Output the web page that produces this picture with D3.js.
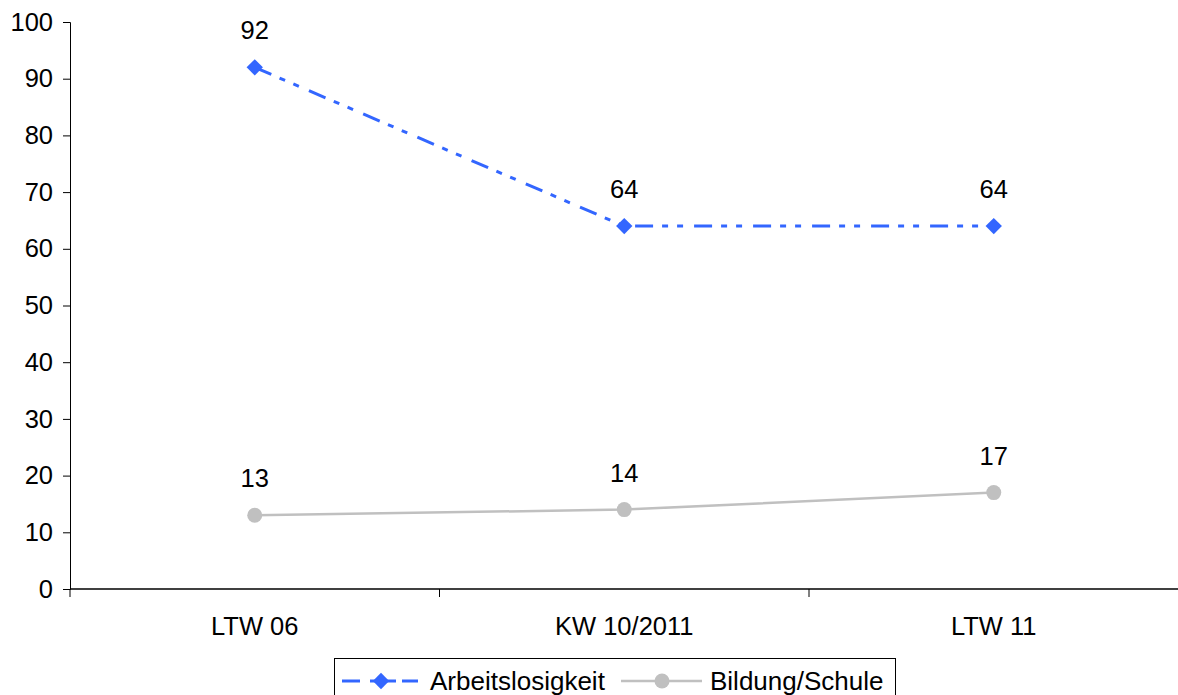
<!DOCTYPE html>
<html><head><meta charset="utf-8">
<script src="https://cdn.jsdelivr.net/npm/d3@7"></script>
<style>body{margin:0;background:#fff}svg{display:block}</style>
</head><body>
<svg id="c" width="1178" height="695"></svg>
<script>
const categories = ["LTW 06", "KW 10/2011", "LTW 11"];
const arbeitslosigkeit = [92, 64, 64];
const bildung = [13, 14, 17];
const seriesNames = ["Arbeitslosigkeit", "Bildung/Schule"];
const yTicks = [0,10,20,30,40,50,60,70,80,90,100];

(function(){
const svg = d3.select("#c");
const font = "'Liberation Sans', Arial, sans-serif";
const fs = 25.5;
const mLeft = 70, mRight = 1178, mTop = 22, mBottom = 589;
const x = d3.scaleBand().domain(categories).range([mLeft, mRight + 0.5]);
const y = d3.scaleLinear().domain([0, 100]).range([mBottom, mTop]);

const ya = svg.append("g").attr("transform", `translate(${mLeft},0)`)
  .call(d3.axisLeft(y).tickValues(yTicks).tickSize(7).tickPadding(10));
ya.select(".domain").attr("stroke", "#000").attr("stroke-width", 1);
ya.selectAll(".tick line").attr("stroke", "#000");
ya.selectAll("text").attr("font-family", font).attr("font-size", fs).attr("fill", "#000");
svg.append("line").attr("x1", mLeft).attr("x2", mLeft).attr("y1", mBottom).attr("y2", mBottom + 8).attr("stroke", "#000");

const xa = svg.append("g").attr("transform", `translate(0,${mBottom})`);
xa.append("line").attr("x1", mLeft).attr("x2", mRight).attr("y1", 0).attr("y2", 0).attr("stroke", "#000").attr("stroke-width", 1.5);
const bounds = categories.map(c => x(c)).slice(1);
xa.selectAll("line.t").data(bounds).enter().append("line").attr("class", "t")
  .attr("x1", d => d).attr("x2", d => d).attr("y1", 0).attr("y2", 8).attr("stroke", "#000");
xa.selectAll("text").data(categories).enter().append("text")
  .attr("x", d => x(d) + x.bandwidth() / 2).attr("y", 46)
  .attr("text-anchor", "middle").attr("font-family", font).attr("font-size", fs).text(d => d);

const cx = d => x(d) + x.bandwidth() / 2;
const blue = "#3366ff", gray = "#c0c0c0";
const dash = "18,9,6,9,6,11";

const line = d3.line().x((d, i) => cx(categories[i])).y(d => y(d));
svg.append("path").datum(bildung).attr("d", line).attr("fill", "none").attr("stroke", gray).attr("stroke-width", 2.5);
svg.selectAll("circle.b").data(bildung).enter().append("circle").attr("class", "b")
  .attr("cx", (d, i) => cx(categories[i])).attr("cy", d => y(d)).attr("r", 7.5).attr("fill", gray);

svg.append("path").datum(arbeitslosigkeit).attr("d", line).attr("fill", "none")
  .attr("stroke", blue).attr("stroke-width", 3).attr("stroke-dasharray", dash);
const diamond = d3.symbol().type(d3.symbolDiamond2).size(170);
svg.selectAll("path.a").data(arbeitslosigkeit).enter().append("path").attr("class", "a")
  .attr("d", diamond).attr("transform", (d, i) => `translate(${cx(categories[i])},${y(d)})`).attr("fill", blue);

function labels(data, cls) {
  svg.selectAll("text." + cls).data(data).enter().append("text").attr("class", cls)
    .attr("x", (d, i) => cx(categories[i])).attr("y", d => y(d) - 28)
    .attr("text-anchor", "middle").attr("font-family", font).attr("font-size", fs).text(d => d);
}
labels(arbeitslosigkeit, "la");
labels(bildung, "lb");

const lg = svg.append("g");
lg.append("rect").attr("x", 334.5).attr("y", 658.5).attr("width", 561).attr("height", 50)
  .attr("fill", "#fff").attr("stroke", "#000").attr("stroke-width", 1);
const ly = 681;
[[342, 360], [370, 396], [402, 418]].forEach(s =>
  lg.append("line").attr("x1", s[0]).attr("x2", s[1]).attr("y1", ly).attr("y2", ly).attr("stroke", blue).attr("stroke-width", 3));
lg.append("path").attr("d", diamond).attr("transform", `translate(381,${ly})`).attr("fill", blue);
lg.append("text").attr("x", 430).attr("y", ly + 9).attr("font-family", font).attr("font-size", 26).text(seriesNames[0]);
lg.append("line").attr("x1", 621).attr("x2", 702).attr("y1", ly).attr("y2", ly).attr("stroke", gray).attr("stroke-width", 2.5);
lg.append("circle").attr("cx", 662).attr("cy", ly).attr("r", 7.5).attr("fill", gray);
lg.append("text").attr("x", 710).attr("y", ly + 9).attr("font-family", font).attr("font-size", 26).text(seriesNames[1]);
})();
</script>
</body></html>
